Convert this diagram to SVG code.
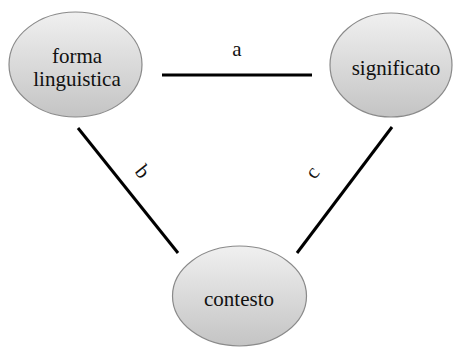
<svg xmlns="http://www.w3.org/2000/svg" width="459" height="347" viewBox="0 0 459 347">
<defs>
<linearGradient id="g" x1="0" y1="0" x2="0" y2="1">
<stop offset="0" stop-color="#f0f0f0"/>
<stop offset="1" stop-color="#c4c4c4"/>
</linearGradient>
<style>
.n{fill:url(#g);stroke:#8a8a8a;stroke-width:1.2}
text{font-family:"Liberation Serif",serif;font-size:21px;fill:#111;text-anchor:middle}
.e{stroke:#000;stroke-width:3;fill:none}
</style>
</defs>
<rect width="459" height="347" fill="#fff"/>
<g id="forma">
<ellipse class="n" cx="75.5" cy="64.5" rx="66.5" ry="52.5"/>
<text x="77" y="63" font-family="Liberation Serif">forma</text>
<text x="77" y="86" font-family="Liberation Serif">linguistica</text>
</g>
<g id="significato">
<ellipse class="n" cx="391" cy="65" rx="61" ry="52"/>
<text x="396" y="75" font-family="Liberation Serif">significato</text>
</g>
<g id="contesto">
<ellipse class="n" cx="239.5" cy="296" rx="67" ry="50"/>
<text x="239" y="306" font-family="Liberation Serif">contesto</text>
</g>
<g id="connectors">
<line class="e" x1="162" y1="75" x2="312" y2="75"/>
<line class="e" x1="78" y1="128" x2="178" y2="253"/>
<line class="e" x1="392" y1="127" x2="297" y2="253"/>
<text x="237" y="56" font-family="Liberation Serif">a</text>
<text transform="translate(142,172) rotate(51)" x="0" y="6" font-family="Liberation Serif">b</text>
<text transform="translate(313,173) rotate(-52)" x="0" y="6" font-family="Liberation Serif">c</text>
</g>
</svg>
